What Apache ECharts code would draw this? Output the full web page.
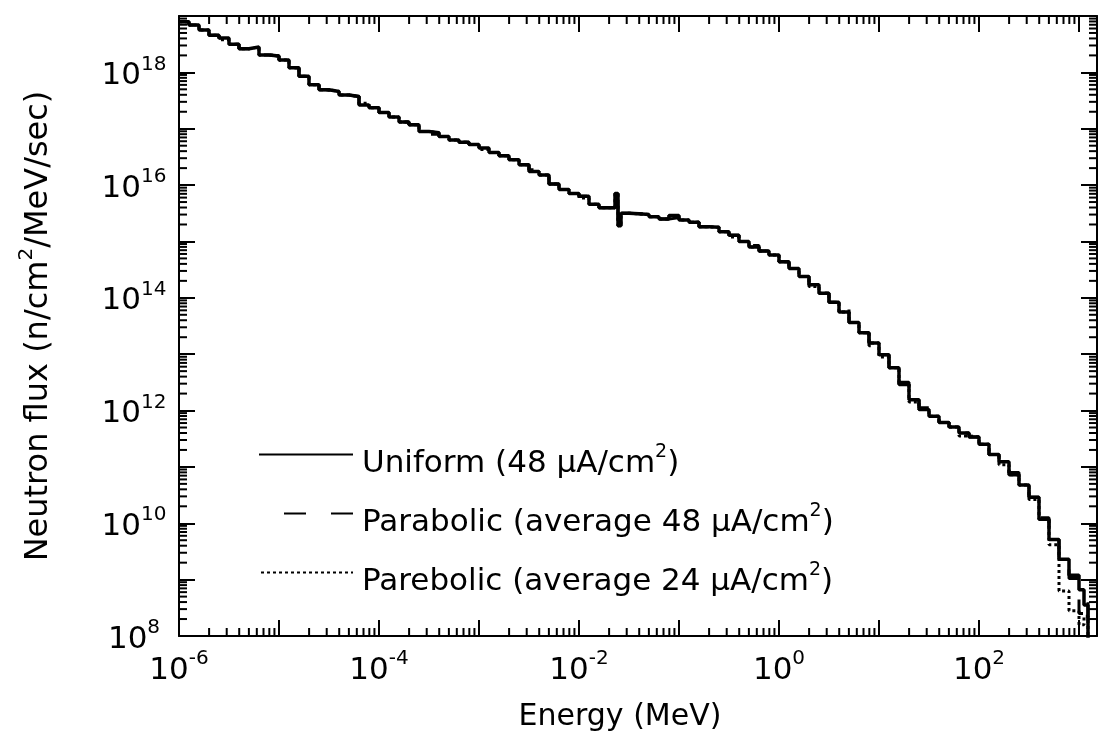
<!DOCTYPE html>
<html>
<head>
<meta charset="utf-8">
<script src="https://cdn.jsdelivr.net/npm/echarts@6/dist/echarts.min.js"></script>
<style>
html,body{margin:0;padding:0;background:#fff;}
#c{width:1101px;height:744px;}
</style>
</head>
<body>
<div id="c"></div>
<script>
// log10(Energy / MeV) bin left edges
const energyExp = [-6.0,-5.9,-5.8,-5.7,-5.6,-5.5,-5.4,-5.3,-5.2,-5.1,-5.0,-4.9,-4.8,-4.7,-4.6,-4.5,-4.4,-4.3,-4.2,-4.1,-4.0,-3.9,-3.8,-3.7,-3.6,-3.5,-3.4,-3.3,-3.2,-3.1,-3.0,-2.9,-2.8,-2.7,-2.6,-2.5,-2.4,-2.3,-2.2,-2.1,-2.0,-1.9,-1.8,-1.7,
  -1.64,-1.61,-1.58,
  -1.5,-1.4,-1.3,-1.2,-1.1,-1.0,-0.9,-0.8,-0.7,-0.6,-0.5,-0.4,-0.3,-0.2,-0.1,0.0,0.1,0.2,0.3,0.4,0.5,0.6,0.7,0.8,0.9,1.0,1.1,1.2,1.3,1.4,1.5,1.6,1.7,1.8,1.9,2.0,2.1,2.2,2.3,2.4,2.5,2.6,2.7,2.8,2.9,3.0,
  3.05,3.09];
// log10(flux) values
const uniformExp = [18.90,18.84,18.75,18.66,18.61,18.50,18.42,18.45,18.31,18.29,18.22,18.08,17.93,17.78,17.69,17.66,17.60,17.57,17.42,17.37,17.29,17.21,17.12,17.07,16.95,16.93,16.86,16.80,16.76,16.72,16.66,16.58,16.52,16.45,16.36,16.24,16.18,16.02,15.92,15.85,15.80,15.66,15.60,15.60,
  15.85,15.28,15.50,
  15.49,15.48,15.44,15.40,15.46,15.38,15.34,15.26,15.25,15.17,15.11,15.00,14.90,14.83,14.76,14.64,14.52,14.38,14.23,14.08,13.92,13.75,13.56,13.38,13.20,12.99,12.76,12.46,12.19,12.02,11.90,11.79,11.71,11.60,11.53,11.40,11.22,11.09,10.86,10.68,10.46,10.07,9.71,9.36,9.08,8.82,
  8.55,7.0];
const parab48Exp = [18.90,18.84,18.75,18.66,18.61,18.50,18.42,18.40,18.31,18.29,18.22,18.08,17.93,17.78,17.69,17.62,17.60,17.57,17.42,17.37,17.29,17.21,17.12,17.07,16.95,16.90,16.86,16.80,16.76,16.72,16.66,16.58,16.52,16.45,16.36,16.27,16.18,16.02,15.92,15.85,15.80,15.66,15.60,15.60,
  15.82,15.30,15.50,
  15.49,15.48,15.44,15.40,15.42,15.38,15.34,15.26,15.25,15.17,15.11,15.00,14.93,14.83,14.76,14.64,14.52,14.38,14.23,14.08,13.92,13.80,13.56,13.38,13.15,12.99,12.76,12.50,12.19,12.05,11.90,11.79,11.68,11.60,11.53,11.36,11.22,11.09,10.90,10.68,10.46,10.10,9.71,9.36,9.02,8.40,
  8.65,7.0];
const parab24Exp = [18.90,18.84,18.75,18.66,18.58,18.50,18.42,18.45,18.31,18.29,18.22,18.08,17.93,17.78,17.69,17.66,17.60,17.57,17.45,17.37,17.29,17.21,17.12,17.07,16.95,16.93,16.86,16.80,16.76,16.72,16.63,16.58,16.52,16.45,16.36,16.24,16.18,16.02,15.92,15.85,15.77,15.66,15.60,15.60,
  15.85,15.28,15.50,
  15.49,15.48,15.44,15.40,15.46,15.38,15.34,15.26,15.25,15.17,15.08,15.00,14.90,14.83,14.76,14.64,14.52,14.38,14.20,14.08,13.92,13.75,13.56,13.38,13.20,12.95,12.76,12.46,12.15,12.02,11.90,11.79,11.71,11.55,11.53,11.40,11.22,11.04,10.86,10.68,10.42,10.07,9.62,8.80,8.45,8.20,
  8.35,7.0];

const seriesNames = ['Uniform','Parabolic48','Parebolic24'];
const legendLabels = {
  'Uniform': '{t|Uniform (48 \u03bcA/cm}{s|2}{t|)}',
  'Parabolic48': '{t|Parabolic (average 48 \u03bcA/cm}{s|2}{t|)}',
  'Parebolic24': '{t|Parebolic (average 24 \u03bcA/cm}{s|2}{t|)}'
};
const xTickExp = [-6,-5,-4,-3,-2,-1,0,1,2,3];
const yTickExp = [8,9,10,11,12,13,14,15,16,17,18];

const FONT = 'DejaVu Sans';
const X_MIN = -6, X_MAX = 3.18, Y_MIN = 8, Y_MAX = 19;

function pairs(xs, ys){ return xs.map((x,i)=>[x, ys[i]]); }

// minor tick positions (log of 2..9 inside each decade)
const xMinor = [], yMinor = [];
xTickExp.forEach(n=>{ for(let k=2;k<=9;k++){ const v=n+Math.log10(k); if(v<X_MAX) xMinor.push([v, Y_MIN]); }});
yTickExp.forEach(n=>{ for(let k=2;k<=9;k++){ const v=n+Math.log10(k); if(v<Y_MAX) yMinor.push([X_MIN, v]); }});

const labelRich = {
  b: {fontFamily: FONT, fontSize: 31, color: '#000', lineHeight: 36, padding: [7,0,0,0]},
  s: {fontFamily: FONT, fontSize: 20, color: '#000', verticalAlign: 'top', lineHeight: 22}
};
function expLabel(v){
  const r = Math.round(v);
  if (Math.abs(v - r) > 1e-6 || r % 2 !== 0) return '';
  return '{b|10}{s|' + r + '}';
}

const axisCommon = {
  type: 'value',
  axisLine: {show: true, onZero: false, lineStyle: {color: '#000', width: 2}},
  axisTick: {show: true, inside: true, length: 16, lineStyle: {color: '#000', width: 2}},
  splitLine: {show: false},
  minorTick: {show: false}
};

const chart = echarts.init(document.getElementById('c'));
const minorLen = 8;
chart.setOption({
  animation: false,
  backgroundColor: '#fff',
  grid: {left: 179, right: 4, top: 16, bottom: 108, containLabel: false},
  xAxis: [
    Object.assign({}, axisCommon, {
      position: 'bottom', min: X_MIN, max: X_MAX, interval: 1,
      axisLabel: {show: true, margin: 13, formatter: expLabel, rich: labelRich, showMaxLabel: true, hideOverlap: false},
      name: 'Energy (MeV)', nameLocation: 'middle', nameGap: 66,
      nameTextStyle: {fontFamily: FONT, fontSize: 30, color: '#000', padding: [0, 36, 0, 0]}
    }),
    Object.assign({}, axisCommon, {
      position: 'top', min: X_MIN, max: X_MAX, interval: 1, axisLabel: {show: false}
    })
  ],
  yAxis: [
    Object.assign({}, axisCommon, {
      position: 'left', min: Y_MIN, max: Y_MAX, interval: 1,
      axisLabel: {show: true, align: 'center', margin: 45, formatter: expLabel, rich: labelRich, hideOverlap: false},
      name: '{t|Neutron flux (n/cm}{s|2}{t|/MeV/sec)}', nameLocation: 'middle', nameGap: 124, nameRotate: 90,
      nameTextStyle: {fontFamily: FONT, fontSize: 32, color: '#000',
        rich: {t: {fontFamily: FONT, fontSize: 32, color: '#000', lineHeight: 38, padding: [6,0,0,0]},
               s: {fontFamily: FONT, fontSize: 20, color: '#000', verticalAlign: 'top', lineHeight: 22}}}
    }),
    Object.assign({}, axisCommon, {
      position: 'right', min: Y_MIN, max: Y_MAX, interval: 1, axisLabel: {show: false}
    })
  ],
  legend: {
    show: true, orient: 'vertical', left: 258, top: 442, padding: 0,
    itemWidth: 94, itemHeight: 20, itemGap: 22,
    data: [
      {name: 'Uniform'},
      {name: 'Parabolic48', lineStyle: {type: [22, 25], dashOffset: 22}},
      {name: 'Parebolic24', lineStyle: {type: [3, 3]}}
    ],
    itemStyle: {opacity: 0},
    formatter: function(name){ return legendLabels[name]; },
    textStyle: {
      fontFamily: FONT, fontSize: 31, color: '#000', padding: [12,0,0,4],
      rich: {
        t: {fontFamily: FONT, fontSize: 31, color: '#000', lineHeight: 36, padding: [6,0,0,0]},
        s: {fontFamily: FONT, fontSize: 19, color: '#000', verticalAlign: 'top', lineHeight: 20}
      }
    },
    selectedMode: false
  },
  series: [
    {
      name: 'Parebolic24', type: 'line', step: 'end', symbol: 'none', showSymbol: false,
      data: pairs(energyExp, parab24Exp),
      lineStyle: {color: '#000', width: 3, type: [3, 3]}, itemStyle: {color: '#000'}
    },
    {
      name: 'Parabolic48', type: 'line', step: 'end', symbol: 'none', showSymbol: false,
      data: pairs(energyExp, parab48Exp),
      lineStyle: {color: '#000', width: 3, type: [18, 22]}, itemStyle: {color: '#000'}
    },
    {
      name: 'Uniform', type: 'line', step: 'end', symbol: 'none', showSymbol: false,
      data: pairs(energyExp, uniformExp),
      lineStyle: {color: '#000', width: 3.5}, itemStyle: {color: '#000'}
    },
    {
      type: 'custom', silent: true, data: xMinor, clip: false,
      renderItem: function(params, api){
        const v = api.value(0);
        const b = api.coord([v, Y_MIN]);
        const t = api.coord([v, Y_MAX]);
        return {type: 'group', children: [
          {type: 'line', shape: {x1: b[0], y1: b[1], x2: b[0], y2: b[1]-minorLen}, style: {stroke: '#000', lineWidth: 2}},
          {type: 'line', shape: {x1: t[0], y1: t[1], x2: t[0], y2: t[1]+minorLen}, style: {stroke: '#000', lineWidth: 2}}
        ]};
      }
    },
    {
      type: 'custom', silent: true, data: yMinor, clip: false,
      renderItem: function(params, api){
        const v = api.value(1);
        const l = api.coord([X_MIN, v]);
        const r = api.coord([X_MAX, v]);
        return {type: 'group', children: [
          {type: 'line', shape: {x1: l[0], y1: l[1], x2: l[0]+minorLen, y2: l[1]}, style: {stroke: '#000', lineWidth: 2}},
          {type: 'line', shape: {x1: r[0], y1: r[1], x2: r[0]-minorLen, y2: r[1]}, style: {stroke: '#000', lineWidth: 2}}
        ]};
      }
    }
  ]
});
</script>
</body>
</html>
